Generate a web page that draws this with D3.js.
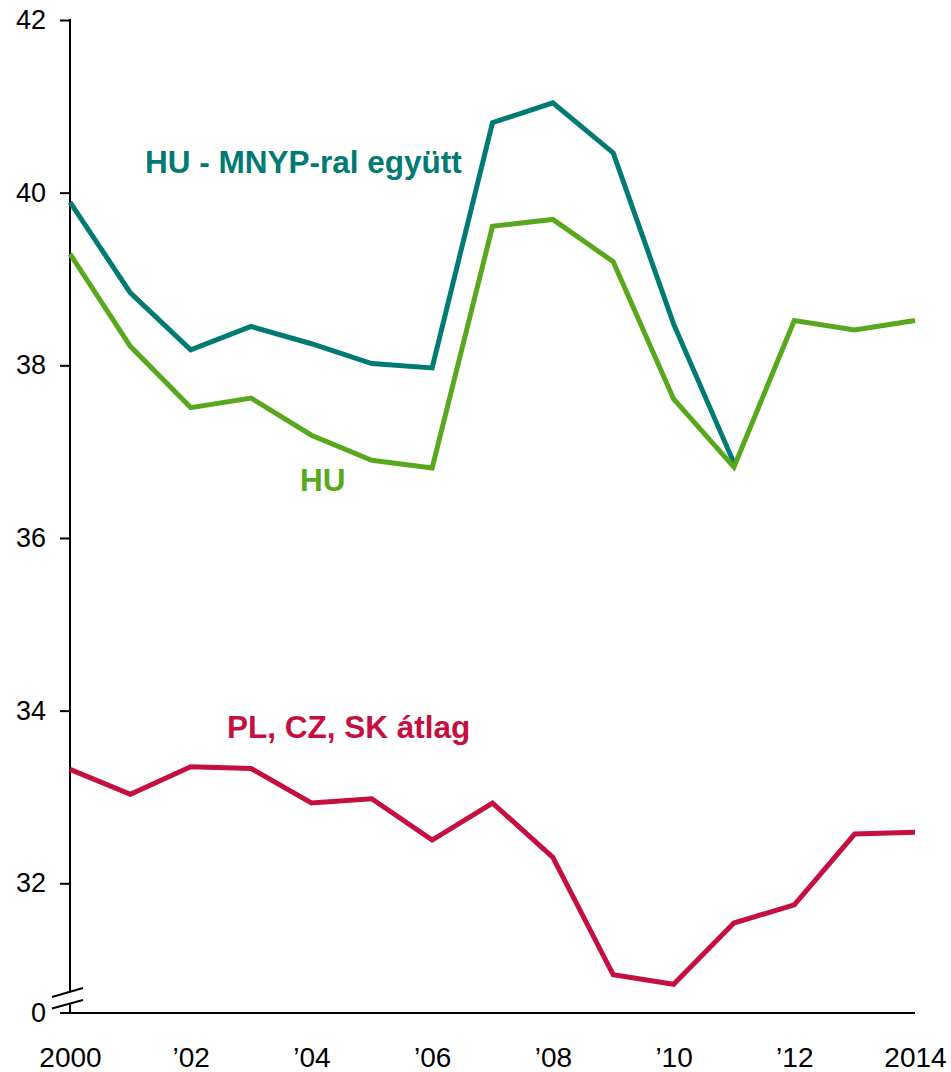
<!DOCTYPE html>
<html>
<head>
<meta charset="utf-8">
<script src="https://cdn.jsdelivr.net/npm/d3@7"></script>
<style>
  html, body { margin: 0; padding: 0; background: #fff; }
  svg { display: block; font-family: "Liberation Sans", Arial, Helvetica, sans-serif; }
</style>
</head>
<body>
<svg id="chart" width="951" height="1072"></svg>
<script>
const years = [2000,2001,2002,2003,2004,2005,2006,2007,2008,2009,2010,2011,2012,2013,2014];
const huMnyp = [39.89,38.84,38.18,38.45,38.25,38.02,37.97,40.81,41.04,40.46,38.48,36.87];
const hu = [39.29,38.22,37.51,37.62,37.19,36.90,36.81,39.61,39.69,39.20,37.61,36.82,38.52,38.41,38.52];
const v4avg = [33.32,33.03,33.35,33.33,32.93,32.98,32.50,32.93,32.30,30.94,30.83,31.54,31.75,32.57,32.59];
const yTicks = [32,34,36,38,40,42];
const xTickYears = [2000,2002,2004,2006,2008,2010,2012,2014];
const xTickLabels = ["2000","\u201902","\u201904","\u201906","\u201908","\u201910","\u201912","2014"];
const seriesNames = ["HU - MNYP-ral együtt","HU","PL, CZ, SK átlag"];

const svg = d3.select("#chart");
const x = d3.scaleLinear().domain([2000, 2014]).range([70, 915]);
const y = d3.scaleLinear().domain([32, 42]).range([883.3, 20]);
const yZero = 1013;

// Axes
const yAxis = d3.axisLeft(y).tickValues(yTicks).tickSize(10).tickPadding(14).tickFormat(d3.format("d"));
const gy = svg.append("g").attr("transform", "translate(70,0)").call(yAxis);
gy.select(".domain").remove();
gy.selectAll(".tick line").attr("stroke", "#000").attr("stroke-width", 2);
gy.selectAll(".tick text").attr("font-size", 27).attr("fill", "#000")
  .attr("font-family", "Liberation Sans, Arial, sans-serif");

// zero tick
svg.append("line").attr("x1", 60).attr("x2", 70).attr("y1", yZero).attr("y2", yZero)
  .attr("stroke", "#000").attr("stroke-width", 2);
svg.append("text").attr("x", 46).attr("y", yZero).attr("dy", "0.32em")
  .attr("text-anchor", "end").attr("font-size", 27).attr("fill", "#000").text("0");

// vertical axis with break
svg.append("line").attr("x1", 70).attr("x2", 70).attr("y1", y(42) - 1).attr("y2", 992)
  .attr("stroke", "#000").attr("stroke-width", 2);
svg.append("line").attr("x1", 70).attr("x2", 70).attr("y1", 1003).attr("y2", yZero)
  .attr("stroke", "#000").attr("stroke-width", 2);
svg.append("line").attr("x1", 52).attr("y1", 997).attr("x2", 83).attr("y2", 988)
  .attr("stroke", "#000").attr("stroke-width", 2);
svg.append("line").attr("x1", 52).attr("y1", 1008.5).attr("x2", 83).attr("y2", 1000)
  .attr("stroke", "#000").attr("stroke-width", 2);

// x axis baseline
svg.append("line").attr("x1", 69).attr("x2", 915).attr("y1", yZero).attr("y2", yZero)
  .attr("stroke", "#000").attr("stroke-width", 2);

const xAxis = d3.axisBottom(x).tickValues(xTickYears).tickSize(0).tickPadding(0)
  .tickFormat((d, i) => xTickLabels[i]);
const gx = svg.append("g").attr("transform", `translate(0,${yZero})`).call(xAxis);
gx.select(".domain").remove();
gx.selectAll(".tick text").attr("font-size", 28).attr("fill", "#000")
  .attr("font-family", "Liberation Sans, Arial, sans-serif")
  .attr("dy", null).attr("y", 54);

// lines
const line = d3.line().x((d, i) => x(years[i])).y(d => y(d)).curve(d3.curveLinear);
const colors = ["#007a72", "#58a81e", "#c5103f"];
[huMnyp, hu, v4avg].forEach((s, k) => {
  svg.append("path").datum(s).attr("d", line)
    .attr("fill", "none").attr("stroke", colors[k]).attr("stroke-width", 5)
    .attr("stroke-linejoin", "miter").attr("stroke-linecap", "butt");
});

// labels
const labelPos = [[145, 173], [300, 491], [227, 738]];
seriesNames.forEach((t, k) => {
  svg.append("text").attr("x", labelPos[k][0]).attr("y", labelPos[k][1])
    .attr("font-size", 31.5).attr("font-weight", "bold").attr("fill", colors[k]).text(t);
});
</script>
</body>
</html>
